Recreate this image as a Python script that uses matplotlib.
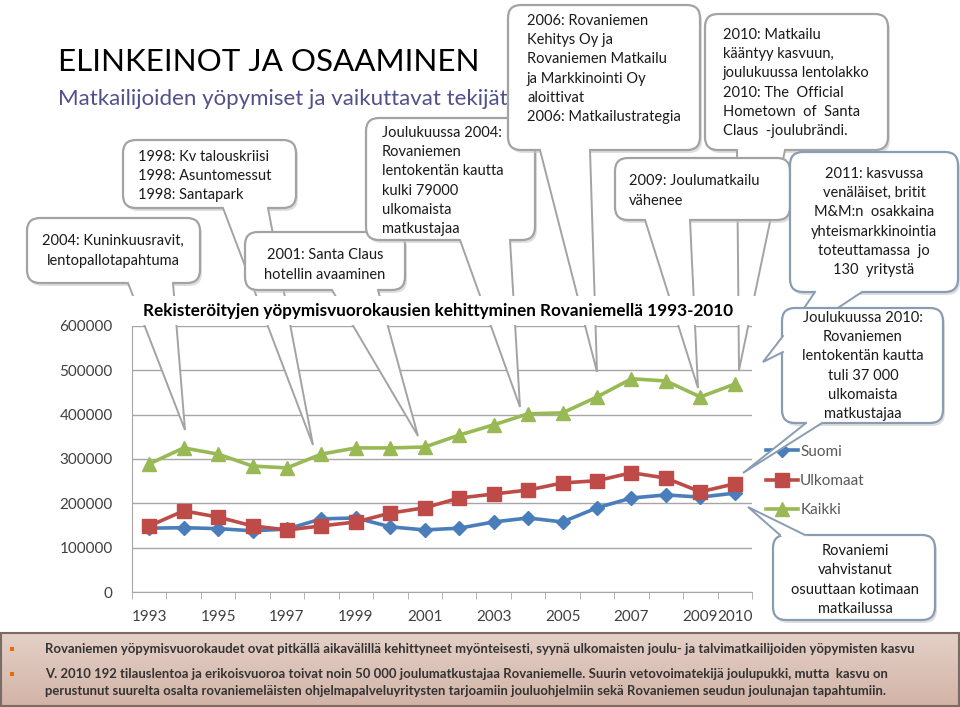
import numpy as np
import matplotlib
matplotlib.use("Agg")
import matplotlib.pyplot as plt
from matplotlib.patches import FancyBboxPatch, Polygon, Rectangle

# --- data ---
years = list(range(1993, 2011))
suomi = [144000, 145000, 143000, 138000, 142000, 165000, 167000, 147000, 140000,
         144000, 158000, 167000, 158000, 190000, 212000, 219000, 214000, 223000]
ulkomaat = [149000, 183000, 169000, 149000, 140000, 149000, 158000, 178000, 190000,
            212000, 221000, 230000, 246000, 251000, 269000, 257000, 226000, 244000]
kaikki = [289000, 325000, 311000, 284000, 280000, 311000, 325000, 325000, 327000,
          354000, 377000, 402000, 404000, 440000, 481000, 476000, 440000, 469000]
x_labels = ["1993", "", "1995", "", "1997", "", "1999", "", "2001", "", "2003", "",
            "2005", "", "2007", "", "2009", "2010"]
series_names = ["Suomi", "Ulkomaat", "Kaikki"]

title = "ELINKEINOT JA OSAAMINEN"
subtitle = "Matkailijoiden yöpymiset ja vaikuttavat tekijät"
chart_title = "Rekisteröityjen yöpymisvuorokausien kehittyminen Rovaniemellä 1993-2010"
notes = [
    "Rovaniemen yöpymisvuorokaudet ovat pitkällä aikavälillä kehittyneet myönteisesti, "
    "syynä ulkomaisten joulu- ja talvimatkailijoiden yöpymisten kasvu",
    "V. 2010 192 tilauslentoa ja erikoisvuoroa toivat noin 50 000 joulumatkustajaa Rovaniemelle. "
    "Suurin vetovoimatekijä joulupukki, mutta  kasvu on\nperustunut suurelta osalta rovaniemeläisten "
    "ohjelmapalveluyritysten tarjoamiin jouluohjelmiin sekä Rovaniemen seudun joulunajan tapahtumiin.",
]

callout_texts = [
    "2004: Kuninkuusravit,\nlentopallotapahtuma",
    "1998: Kv talouskriisi\n1998: Asuntomessut\n1998: Santapark",
    "2001: Santa Claus\nhotellin avaaminen",
    "Joulukuussa 2004:\nRovaniemen\nlentokentän kautta\nkulki 79000\nulkomaista\nmatkustajaa",
    "2006: Rovaniemen\nKehitys Oy ja\nRovaniemen Matkailu\nja Markkinointi Oy\naloittivat\n2006: Matkailustrategia",
    "2010: Matkailu\nkääntyy kasvuun,\njoulukuussa lentolakko\n2010: The  Official\nHometown  of  Santa\nClaus  -joulubrändi.",
    "2009: Joulumatkailu\nvähenee",
    "2011: kasvussa\nvenäläiset, britit\nM&M:n  osakkaina\nyhteismarkkinointia\ntoteuttamassa  jo\n130  yritystä",
    "Joulukuussa 2010:\nRovaniemen\nlentokentän kautta\ntuli 37 000\nulkomaista\nmatkustajaa",
    "Rovaniemi\nvahvistanut\nosuuttaan kotimaan\nmatkailussa",
]

# --- layout of the callouts in figure pixels (box, text anchor, align, tails, edge) ---
GREY = "#A3A3A3"
BLUE = "#8A9CB2"
callout_layout = [
    ((27, 218, 200, 283), (113, 251), "center", [((128, 283), (173, 283), (185, 430))], GREY),
    ((123, 140, 296, 208), (138, 176), "left", [((223, 208), (268, 208), (313, 445))], GREY),
    ((245, 232, 405, 290), (325, 265), "center", [((332, 290), (378, 290), (418, 436))], GREY),
    ((366, 118, 535, 240), (382, 181), "left", [((460, 240), (510, 240), (520, 407))], GREY),
    ((508, 5, 700, 150), (527, 69), "left", [((540, 150), (590, 150), (597, 372))], GREY),
    ((705, 14, 888, 150), (723, 83), "left", [((737, 150), (785, 150), (739, 370))], GREY),
    ((615, 158, 790, 220), (629, 191), "left", [((645, 220), (690, 220), (698, 388))], GREY),
    ((790, 152, 958, 292), (874, 222), "center", [((815, 292), (862, 292), (777, 348))], BLUE),
    ((782, 308, 943, 423), (863, 366), "center",
     [((783, 336), (783, 352), (763, 362)), ((806, 423), (822, 423), (743, 473))], BLUE),
    ((773, 535, 935, 620), (855, 580), "center", [((780, 535), (805, 535), (748, 507))], BLUE),
]

colors = ["#4A7EBB", "#BE4B48", "#98B954"]
markers = [("D", 7), ("s", 9.5), ("^", 10)]

plt.rcParams["font.family"] = ["Lato", "DejaVu Sans"]

fig = plt.figure(figsize=(9.6, 7.07), dpi=100)
fig.patch.set_facecolor("white")

# chart
ax = fig.add_axes([132 / 960, 115 / 707, 620 / 960, 266 / 707])
for vals, name, c, (m, ms) in zip([suomi, ulkomaat, kaikki], series_names, colors, markers):
    ax.plot(years, vals, color=c, lw=2.6, marker=m, ms=ms, label=name, zorder=3)
ax.set_xlim(1992.5, 2010.5)
ax.set_ylim(0, 600000)
ax.set_yticks(range(0, 600001, 100000))
ax.yaxis.grid(True, color="#A6A6A6", lw=1)
ax.set_axisbelow(True)
for s in ["top", "right"]:
    ax.spines[s].set_visible(False)
for s in ["left", "bottom"]:
    ax.spines[s].set_color("#A6A6A6")
ax.set_xticks(years)
ax.set_xticklabels(x_labels)
ax.set_xticks(np.arange(1992.5, 2011, 1), minor=True)
ax.tick_params(axis="x", which="major", length=0, pad=13, labelsize=11, labelcolor="#404040")
ax.tick_params(axis="x", which="minor", length=5, color="#A6A6A6", direction="out")
ax.tick_params(axis="y", length=0, pad=14, labelsize=11, labelcolor="#404040")
ax.legend(loc="center left", bbox_to_anchor=(1.01, 0.417), frameon=False, fontsize=11,
          labelspacing=1.0, handlelength=2.1, handletextpad=0.15, borderpad=0,
          labelcolor="#595959")

# overlay in pixel coordinates
ov = fig.add_axes([0, 0, 1, 1], zorder=5)
ov.patch.set_alpha(0)
ov.axis("off")


def callout(box, text, anchor, ha, tails, edge, z):
    x0, y0, x1, y1 = box
    style = "round,pad=0,rounding_size=13"
    ov.add_patch(FancyBboxPatch((x0 + 2, y0 + 3), x1 - x0, y1 - y0, boxstyle=style,
                                fc="#C9C9C9", ec="none", alpha=0.6, zorder=z))
    ov.add_patch(FancyBboxPatch((x0, y0), x1 - x0, y1 - y0, boxstyle=style,
                                fc="white", ec=edge, lw=1.6, zorder=z + 0.1))
    for b1, b2, tip in tails:
        tip = np.array(tip, float)
        pts = []
        for b in (b1, b2):
            b = np.array(b, float)
            d = (b - tip) / np.hypot(*(b - tip))
            pts.append(b + 3 * d)
        ov.add_patch(Polygon([pts[0], tip, pts[1]], closed=True, fc="white", ec="none",
                             zorder=z + 0.2))
        ov.plot([b1[0], tip[0], b2[0]], [b1[1], tip[1], b2[1]], color=edge, lw=1.4,
                zorder=z + 0.3, solid_joinstyle="miter")
    ov.text(anchor[0], anchor[1], text, ha=ha, va="center", multialignment=ha,
            fontsize=10.5, linespacing=1.48, color="#1A1A1A", zorder=z + 0.4)


for i, (txt, (box, anchor, ha, tails, edge)) in enumerate(zip(callout_texts, callout_layout)):
    callout(box, txt, anchor, ha, tails, edge, 10 + i)

# white title band of the chart hides the callout tails
ov.add_patch(Rectangle((128, 296), 632, 29, fc="white", ec="none", zorder=100))
ov.text(438, 311, chart_title, ha="center", va="center", fontsize=12.3, weight="bold",
        color="black", zorder=101)

ov.text(58, 62, title, ha="left", va="center", fontsize=22.6, color="black")
ov.text(58, 99, subtitle, ha="left", va="center", fontsize=16, color="#50508A")

# bottom note panel
grad = np.linspace(0, 1, 50)[:, None]
top_c = np.array(matplotlib.colors.to_rgb("#E4D0C7"))
bot_c = np.array(matplotlib.colors.to_rgb("#D2B4A7"))
img = top_c[None, None, :] * (1 - grad[:, :, None]) + bot_c[None, None, :] * grad[:, :, None]
ov.imshow(img, extent=(1, 959, 706, 633), aspect="auto", zorder=200)
ov.add_patch(Rectangle((1, 633), 958, 73, fc="none", ec="#7A6B63", lw=1.5, zorder=201))
for yb in (649, 674):
    ov.add_patch(Rectangle((10, yb - 2), 4, 4, fc="#E36C09", ec="none", zorder=202))
n1 = ov.text(45, 649, notes[0], ha="left", va="center", fontsize=9, weight="bold",
             color="#333333", zorder=202)
n2 = ov.text(45, 682.5, notes[1], ha="left", va="center", fontsize=9, weight="bold",
             color="#333333", linespacing=1.55, zorder=202)

ov.set_xlim(0, 960)
ov.set_ylim(707, 0)

# shrink the note font so the first line spans the same width as in the slide
fig.canvas.draw()
w = n1.get_window_extent().width
size = 9 * 869 / w
n1.set_fontsize(size)
n2.set_fontsize(size)

fig.savefig("out.png", dpi=100)
